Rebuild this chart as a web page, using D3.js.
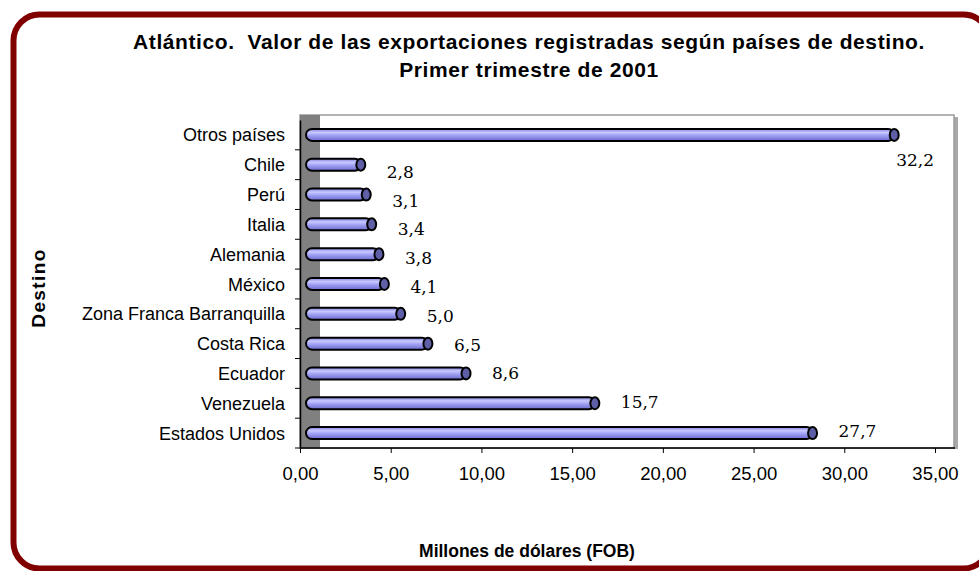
<!DOCTYPE html>
<html>
<head>
<meta charset="utf-8">
<script src="https://cdn.jsdelivr.net/npm/d3@7"></script>
<style>
  body { margin: 0; background: #fff; }
  text { font-family: "Liberation Sans", Arial, sans-serif; }
</style>
</head>
<body>
<div id="chart"></div>
<script>
var categories = ["Otros países", "Chile", "Perú", "Italia", "Alemania", "México",
  "Zona Franca Barranquilla", "Costa Rica", "Ecuador", "Venezuela", "Estados Unidos"]
var values = [32.2, 2.8, 3.1, 3.4, 3.8, 4.1, 5.0, 6.5, 8.6, 15.7, 27.7]
var valueLabels = ["32,2", "2,8", "3,1", "3,4", "3,8", "4,1", "5,0", "6,5", "8,6", "15,7", "27,7"]
var xTicks = [0, 5, 10, 15, 20, 25, 30, 35]
var titleLines = ["Atlántico.  Valor de las exportaciones registradas según países de destino.",
  "Primer trimestre de 2001"]

var width = 979, height = 571
var pLeft = 300, pRight = 935, pTop = 120, pBottom = 448
var frameRight = 955
var depth = 20 // 3d wall depth

var svg = d3.select("#chart").append("svg")
  .attr("width", width).attr("height", height)

// gradient for the cylinders
var defs = svg.append("defs")
var grad = defs.append("linearGradient").attr("id", "cyl")
  .attr("x1", 0).attr("y1", 0).attr("x2", 0).attr("y2", 1)
grad.append("stop").attr("offset", "0%").attr("stop-color", "#8080dc")
grad.append("stop").attr("offset", "30%").attr("stop-color", "#c8c8ff")
grad.append("stop").attr("offset", "55%").attr("stop-color", "#a0a0f4")
grad.append("stop").attr("offset", "100%").attr("stop-color", "#6a6acc")

// outer border
svg.append("rect")
  .attr("x", 13.5).attr("y", 14.5)
  .attr("width", 976).attr("height", 554)
  .attr("rx", 26).attr("ry", 26)
  .attr("fill", "none").attr("stroke", "#800000").attr("stroke-width", 6)

var x = d3.scaleLinear().domain([0, 35]).range([pLeft, pRight])
var y = d3.scaleBand().domain(categories).range([pTop, pBottom])

// plot frame with shadow
svg.append("rect")
  .attr("x", pLeft + 2).attr("y", pTop - 3)
  .attr("width", frameRight - pLeft + 1).attr("height", pBottom - pTop + 4)
  .attr("fill", "#a8a8a8")
svg.append("rect")
  .attr("x", pLeft).attr("y", pTop - 5)
  .attr("width", frameRight - pLeft - 1).attr("height", pBottom - pTop + 5)
  .attr("fill", "#fff").attr("stroke", "#9a9a9a").attr("stroke-width", 1.5)

// grey side wall
svg.append("rect")
  .attr("x", pLeft).attr("y", pTop - 5)
  .attr("width", depth).attr("height", pBottom - pTop + 5)
  .attr("fill", "#808080")

// axes
var yAxis = d3.axisLeft(y).tickSize(0).tickPadding(15)
svg.append("g").attr("transform", "translate(" + pLeft + ",0)")
  .call(yAxis)
  .call(function(g) {
    g.select(".domain").attr("stroke", "#000").attr("stroke-width", 1.5)
    g.selectAll("text").attr("font-size", 18).attr("fill", "#000")
      .attr("dy", null).attr("y", 6.5)
  })
// tick marks between categories
svg.append("g").selectAll("line")
  .data(categories)
  .enter().append("line")
  .attr("x1", pLeft - 5).attr("x2", pLeft)
  .attr("y1", function(d) { return y(d) + y.bandwidth() })
  .attr("y2", function(d) { return y(d) + y.bandwidth() })
  .attr("stroke", "#000").attr("stroke-width", 1)

var xAxis = d3.axisBottom(x).tickValues(xTicks).tickSize(5).tickPadding(8)
  .tickFormat(function(d) { return d3.format(".2f")(d).replace(".", ",") })
svg.append("g").attr("transform", "translate(0," + pBottom + ")")
  .call(xAxis)
  .call(function(g) {
    g.select(".domain").remove()
    g.selectAll("text").attr("font-size", 18.5).attr("fill", "#000")
      .attr("dy", null).attr("y", 32)
  })
svg.append("line")
  .attr("x1", pLeft).attr("x2", frameRight).attr("y1", pBottom).attr("y2", pBottom)
  .attr("stroke", "#000").attr("stroke-width", 1.5)

// cylinders
var bh = 12
var bars = svg.append("g").selectAll("g")
  .data(values)
  .enter().append("g")
bars.append("rect")
  .attr("x", pLeft + 6)
  .attr("y", function(d, i) { return y(categories[i]) + y.bandwidth() / 2 - bh / 2 })
  .attr("width", function(d) { return x(d) + depth / 2 - pLeft - 6 })
  .attr("height", bh)
  .attr("rx", 6)
  .attr("fill", "url(#cyl)").attr("stroke", "#000").attr("stroke-width", 2)
bars.append("ellipse")
  .attr("cx", function(d) { return x(d) + depth / 2 })
  .attr("cy", function(d, i) { return y(categories[i]) + y.bandwidth() / 2 })
  .attr("rx", 4.5).attr("ry", bh / 2)
  .attr("fill", "#5f5fa8").attr("stroke", "#000").attr("stroke-width", 2)

// value labels, shifted a bit lower towards the top (perspective)
function labelFits(d) { return x(d) + depth / 2 + 24 + 42 < frameRight }
svg.append("g").selectAll("text")
  .data(values)
  .enter().append("text")
  .attr("x", function(d) {
    return labelFits(d) ? x(d) + depth / 2 + 26 : x(d) + depth / 2 + 2
  })
  .attr("y", function(d, i) {
    var cy = y(categories[i]) + y.bandwidth() / 2
    if (!labelFits(d)) return cy + 31
    return cy + 4 + (categories.length - 1 - i) * 1
  })
  .style("font-family", "'DejaVu Serif', 'Liberation Serif', serif")
  .attr("font-size", 17)
  .attr("fill", "#000")
  .text(function(d, i) { return valueLabels[i] })

// titles
svg.append("g").selectAll("text")
  .data(titleLines)
  .enter().append("text")
  .attr("x", 529).attr("y", function(d, i) { return 49 + i * 28 })
  .attr("text-anchor", "middle")
  .attr("font-size", 21).attr("font-weight", "bold")
  .attr("letter-spacing", 0.6)
  .style("white-space", "pre")
  .text(function(d) { return d })

svg.append("text")
  .attr("transform", "translate(45,288) rotate(-90)")
  .attr("text-anchor", "middle")
  .attr("font-size", 19).attr("font-weight", "bold")
  .attr("letter-spacing", 1.4)
  .text("Destino")

svg.append("text")
  .attr("x", 527).attr("y", 557)
  .attr("text-anchor", "middle")
  .attr("font-size", 17.5).attr("font-weight", "bold")
  .text("Millones de dólares (FOB)")
</script>
</body>
</html>
